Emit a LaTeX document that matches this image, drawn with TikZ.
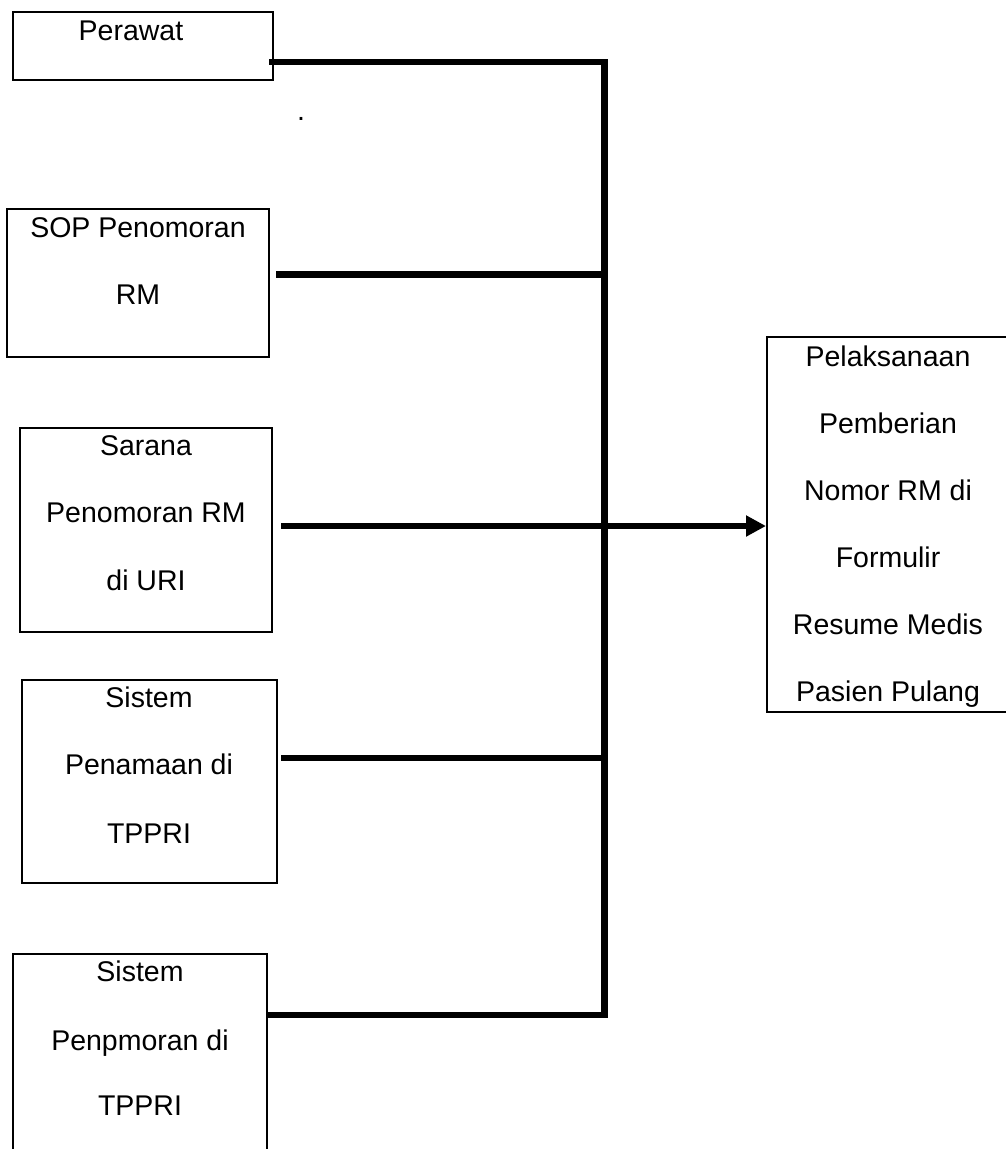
\documentclass[tikz,border=0pt]{standalone}
\usepackage{fontspec}
\setmainfont{Liberation Sans}
\usetikzlibrary{arrows.meta}
\begin{document}
\begin{tikzpicture}[x=1pt,y=-1pt,
  box/.style={draw, line width=2pt, inner sep=0pt, fill=none},
  lbl/.style={anchor=base, inner sep=0pt, font=\fontsize{28.5}{34}\selectfont},
  conn/.style={line width=6.5pt, line join=miter}]
\useasboundingbox[fill=white] (0,0) rectangle (1006,1149);

% boxes
\node[box, minimum width=260pt, minimum height=68pt]  (b1) at (143,46) {};
\node[box, minimum width=262pt, minimum height=148pt] (b2) at (138,283) {};
\node[box, minimum width=252pt, minimum height=204pt] (b3) at (146,530) {};
\node[box, minimum width=255pt, minimum height=203pt] (b4) at (149.5,781.5) {};
\node[box, minimum width=254pt, minimum height=212pt] (b5) at (140,1060) {};
\node[box, minimum width=242pt, minimum height=375pt] (b6) at (888,524.5) {};

% texts
\node[lbl] (t1)  at (131,40) {Perawat};
\node[lbl] (t2a) at (138,237) {SOP Penomoran};
\node[lbl] (t2b) at (138,304) {RM};
\node[lbl] (t3a) at (146,455) {Sarana};
\node[lbl] (t3b) at (146,522) {Penomoran RM};
\node[lbl] (t3c) at (146,590) {di URI};
\node[lbl] (t4a) at (149,707) {Sistem};
\node[lbl] (t4b) at (149,774) {Penamaan di};
\node[lbl] (t4c) at (149,843) {TPPRI};
\node[lbl] (t5a) at (140,981) {Sistem};
\node[lbl] (t5b) at (140,1050) {Penpmoran di};
\node[lbl] (t5c) at (140,1115) {TPPRI};
\node[lbl] (t6a) at (888,366) {Pelaksanaan};
\node[lbl] (t6b) at (888,433) {Pemberian};
\node[lbl] (t6c) at (888,500) {Nomor RM di};
\node[lbl] (t6d) at (888,567) {Formulir};
\node[lbl] (t6e) at (888,634) {Resume Medis};
\node[lbl] (t6f) at (888,701) {Pasien Pulang};
\node[lbl] (dot) at (301,120) {.};

% junctions on the vertical bus
\coordinate (j1) at (604.5,62);
\coordinate (j2) at (604.5,274.5);
\coordinate (j3) at (604.5,526);
\coordinate (j4) at (604.5,758);
\coordinate (j5) at (604.5,1015);

% connectors
\draw[conn] ([xshift=-5pt]b1.east |- j1) -- (j1) -- (j5) -- ([xshift=-2pt]b5.east |- j5);
\draw[conn] ([xshift=6pt]b2.east |- j2) -- (j2);
\draw[conn] ([xshift=3pt]b4.east |- j4) -- (j4);
\draw[conn, -{Triangle[length=20pt,width=20pt]}] ([xshift=8pt]b3.east |- j3) -- (b6.west |- j3);
\end{tikzpicture}
\end{document}
